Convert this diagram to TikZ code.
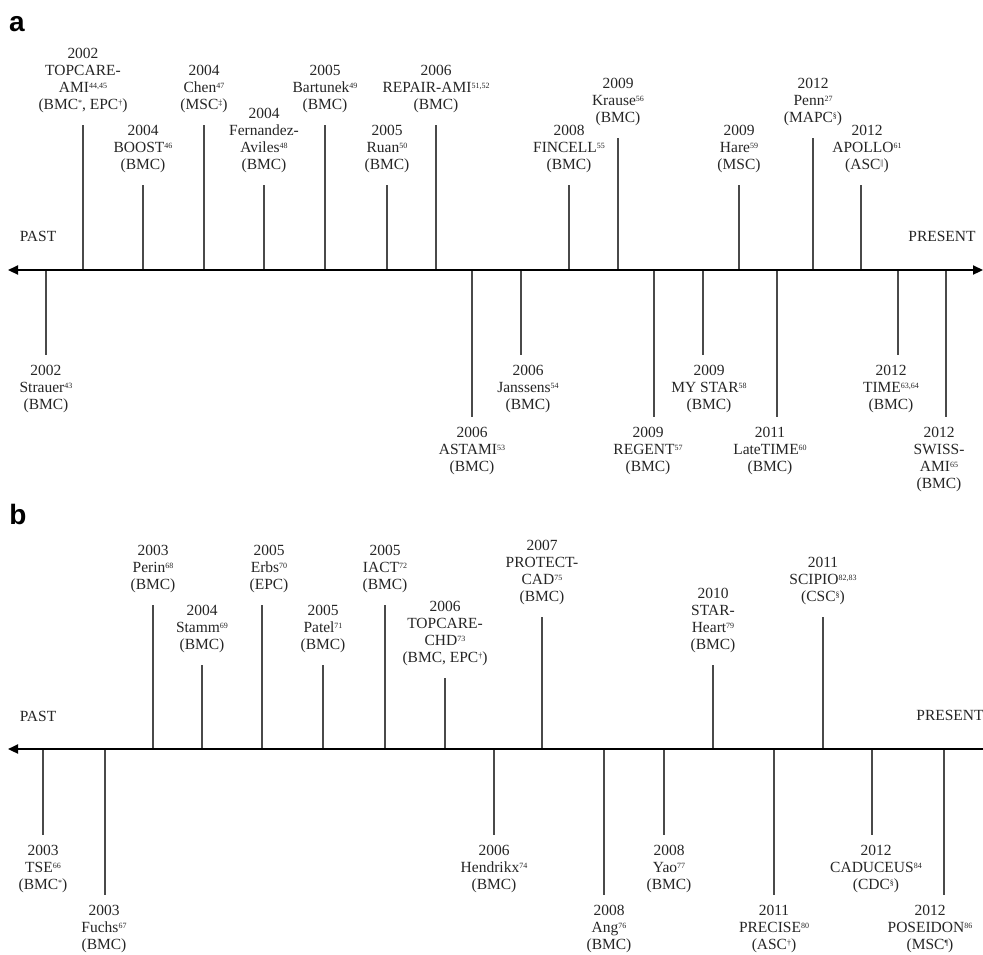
\documentclass[tikz,border=0pt]{standalone}
\usepackage{fontspec}
\setmainfont{Liberation Serif}
\newfontfamily\panelfont{Liberation Sans}
\usetikzlibrary{arrows.meta}
\newcommand\sups[1]{\raisebox{4.2pt}{\fontsize{8}{8}\selectfont #1}}
% #1 name, #2 stem x, #3 stem end y, #4 axis y, #5 label x-offset, #6 text
\newcommand\upev[6]{%
  \coordinate (#1s) at (#2,#3);
  \coordinate (#1a) at (#2,#4);
  \node[lbl,anchor=south] (#1) at ([xshift=#5pt,yshift=12pt]#1s) {#6};
  \draw[stem] (#1a) -- (#1s);
}
\newcommand\dnev[6]{%
  \coordinate (#1s) at (#2,#3);
  \coordinate (#1a) at (#2,#4);
  \node[lbl,anchor=north] (#1) at ([xshift=#5pt,yshift=-10pt]#1s) {#6};
  \draw[stem] (#1a) -- (#1s);
}
\definecolor{txt}{HTML}{262626}
\definecolor{stemc}{HTML}{4A4A4A}
\begin{document}
\begin{tikzpicture}[x=1pt,y=-1pt,
  lbl/.style={inner sep=0pt,align=center,text=txt,font=\fontsize{15.5}{17}\selectfont},
  side/.style={inner sep=0pt,text=txt,font=\fontsize{15.5}{17}\selectfont},
  stem/.style={draw=stemc,line width=1.3pt},
  axis/.style={draw=black,line width=2.2pt},
  panel/.style={inner sep=0pt,font=\panelfont\bfseries\fontsize{28}{28}\selectfont}]
\useasboundingbox (0,0) rectangle (983,954);
\fill[white] (0,0) rectangle (983,954);

% ---------------- panel a ----------------
\node[panel] (pa) at (17,24) {a};
\node[side] (pasta) at (38,236) {PAST};
\node[side] (presa) at (942,236) {PRESENT};
\coordinate (aL) at (8,270);
\coordinate (aR) at (983,270);

\upev{topcare}{83}{125}{270}{0}{2002\\TOPCARE-\\AMI\sups{44,45}\\(BMC\sups{*}, EPC\sups{†})}
\upev{boost}{143}{185}{270}{0}{2004\\BOOST\sups{46}\\(BMC)}
\upev{chen}{204}{125}{270}{0}{2004\\Chen\sups{47}\\(MSC\sups{‡})}
\upev{fern}{264}{185}{270}{0}{2004\\Fernandez-\\Aviles\sups{48}\\(BMC)}
\upev{bart}{325}{125}{270}{0}{2005\\Bartunek\sups{49}\\(BMC)}
\upev{ruan}{387}{185}{270}{0}{2005\\Ruan\sups{50}\\(BMC)}
\upev{repair}{436}{125}{270}{0}{2006\\REPAIR-AMI\sups{51,52}\\(BMC)}
\upev{fincell}{569}{185}{270}{0}{2008\\FINCELL\sups{55}\\(BMC)}
\upev{krause}{618}{138}{270}{0}{2009\\Krause\sups{56}\\(BMC)}
\upev{hare}{739}{185}{270}{0}{2009\\Hare\sups{59}\\(MSC)}
\upev{penn}{813}{138}{270}{0}{2012\\Penn\sups{27}\\(MAPC\sups{§})}
\upev{apollo}{861}{185}{270}{6}{2012\\APOLLO\sups{61}\\(ASC\sups{||})}

\dnev{strauer}{46}{355}{270}{0}{2002\\Strauer\sups{43}\\(BMC)}
\dnev{astami}{472}{417}{270}{0}{2006\\ASTAMI\sups{53}\\(BMC)}
\dnev{janssens}{521}{355}{270}{7}{2006\\Janssens\sups{54}\\(BMC)}
\dnev{regent}{654}{417}{270}{-6}{2009\\REGENT\sups{57}\\(BMC)}
\dnev{mystar}{703}{355}{270}{6}{2009\\MY STAR\sups{58}\\(BMC)}
\dnev{latetime}{777}{417}{270}{-7}{2011\\LateTIME\sups{60}\\(BMC)}
\dnev{time}{898}{355}{270}{-7}{2012\\TIME\sups{63,64}\\(BMC)}
\dnev{swiss}{946}{417}{270}{-7}{2012\\SWISS-\\AMI\sups{65}\\(BMC)}

\draw[axis,{Triangle[length=10pt,width=9pt]}-{Triangle[length=10pt,width=9pt]}] (aL) -- (aR);

% ---------------- panel b ----------------
\node[panel] (pb) at (18,514) {b};
\node[side] (pastb) at (38,716) {PAST};
\node[side] (presb) at (950,715) {PRESENT};
\coordinate (bL) at (8,749);
\coordinate (bR) at (990,749);

\upev{perin}{153}{605}{749}{0}{2003\\Perin\sups{68}\\(BMC)}
\upev{stamm}{202}{665}{749}{0}{2004\\Stamm\sups{69}\\(BMC)}
\upev{erbs}{262}{605}{749}{7}{2005\\Erbs\sups{70}\\(EPC)}
\upev{patel}{323}{665}{749}{0}{2005\\Patel\sups{71}\\(BMC)}
\upev{iact}{385}{605}{749}{0}{2005\\IACT\sups{72}\\(BMC)}
\upev{tchd}{445}{678}{749}{0}{2006\\TOPCARE-\\CHD\sups{73}\\(BMC, EPC\sups{†})}
\upev{protect}{542}{617}{749}{0}{2007\\PROTECT-\\CAD\sups{75}\\(BMC)}
\upev{starh}{713}{665}{749}{0}{2010\\STAR-\\Heart\sups{79}\\(BMC)}
\upev{scipio}{823}{617}{749}{0}{2011\\SCIPIO\sups{82,83}\\(CSC\sups{§})}

\dnev{tse}{43}{835}{749}{0}{2003\\TSE\sups{66}\\(BMC\sups{*})}
\dnev{fuchs}{105}{895}{749}{-1}{2003\\Fuchs\sups{67}\\(BMC)}
\dnev{hend}{494}{835}{749}{0}{2006\\Hendrikx\sups{74}\\(BMC)}
\dnev{ang}{604}{895}{749}{5}{2008\\Ang\sups{76}\\(BMC)}
\dnev{yao}{664}{835}{749}{5}{2008\\Yao\sups{77}\\(BMC)}
\dnev{precise}{774}{895}{749}{0}{2011\\PRECISE\sups{80}\\(ASC\sups{†})}
\dnev{caduceus}{872}{835}{749}{4}{2012\\CADUCEUS\sups{84}\\(CDC\sups{§})}
\dnev{poseidon}{944}{895}{749}{-14}{2012\\POSEIDON\sups{86}\\(MSC\sups{¶})}

\draw[axis,{Triangle[length=10pt,width=9pt]}-] (bL) -- (bR);
\end{tikzpicture}
\end{document}
